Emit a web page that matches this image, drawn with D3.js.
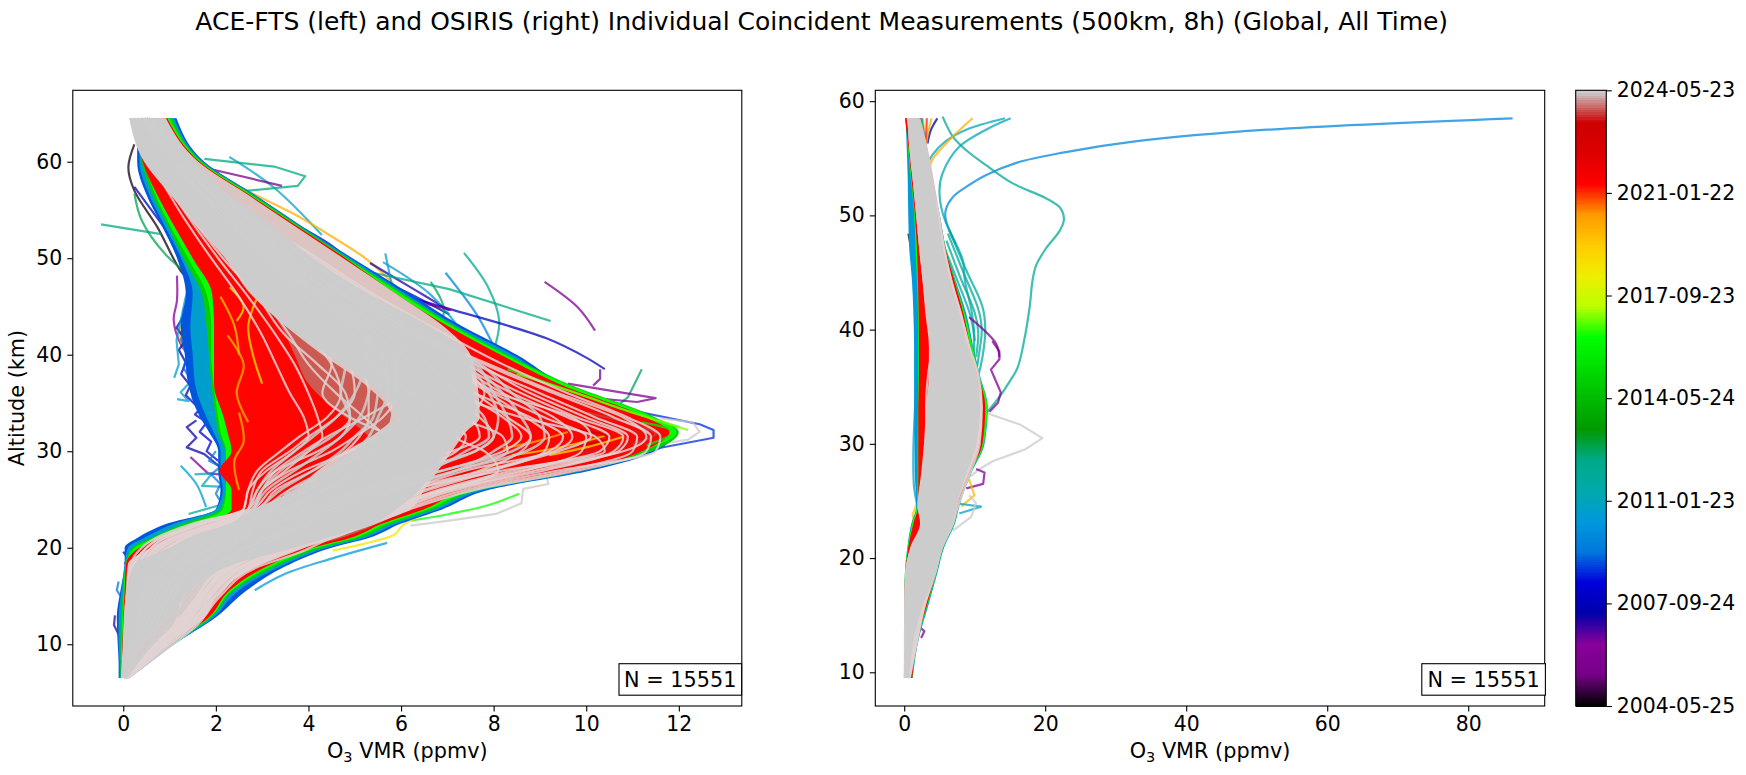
<!DOCTYPE html>
<html><head><meta charset="utf-8">
<style>html,body{margin:0;background:#fff}svg{display:block}text{font-family:"DejaVu Sans";fill:#000}</style>
<script src="https://cdn.jsdelivr.net/npm/d3@7"></script></head><body><svg id="c" width="1746" height="775"></svg>
<script>
const titleText="ACE-FTS (left) and OSIRIS (right) Individual Coincident Measurements (500km, 8h) (Global, All Time)";
const countLabel="N = 15551";
const colorDates=["2004-05-25","2007-09-24","2011-01-23","2014-05-24","2017-09-23","2021-01-22","2024-05-23"];
const cmapStops=[0,.05,.1,.15,.2,.25,.3,.35,.4,.45,.5,.55,.6,.65,.7,.75,.8,.85,.9,.95,1];
const cmapColors=["#000000","#770088","#880099","#0000aa","#0000dd","#0077dd","#0099dd","#00aaaa","#00aa88","#009900","#00bb00","#00dd00","#00ff00","#bbff00","#eeee00","#ffcc00","#ff9900","#ff0000","#dd0000","#cc0000","#cccccc"];
const xTicksLeft=[0,2,4,6,8,10,12], yTicks=[10,20,30,40,50,60], xTicksRight=[0,20,40,60,80];

// Envelopes of the dense bundle of profiles, left panel (ppmv at each altitude)
const leftAlt=[64.5,60,56.7,53.5,50,46.3,43,40,37,33.5,32,30,28,26,24,22.5,21,20,18.3,15.6,12.8,10,8,6.5];
const leftBlueLo=[.3,.3,.49,.82,1.16,1.35,1.24,1.33,1.4,1.66,1.85,2.05,2.05,2.1,2.0,.95,.3,.03,.03,-.06,-.14,-.12,-.1,-.1];
const leftBlueHi=[1.15,1.75,2.8,3.8,4.95,6.2,7.3,8.5,9.5,11.4,11.9,11.5,10.1,7.9,6.9,6.0,5.3,4.5,3.6,2.67,2.0,1.1,.55,.14];
const leftTealLo=[.35,.35,.55,.88,1.25,1.5,1.45,1.5,1.55,1.8,1.95,2.1,2.1,2.15,2.0,1.1,.45,.1,.03,-.04,-.1,-.1,-.08,-.08];
const leftTealHi=[1.1,1.72,2.78,3.78,4.9,6.1,7.2,8.4,9.45,11.4,11.85,11.4,10,7.8,6.8,5.9,5.2,4.4,3.5,2.5,1.95,1.1,.5,.12];
const leftGreenLo=[.3,.4,.62,.95,1.3,1.7,1.8,1.85,1.9,2.0,2.05,2.2,2.2,2.2,2.1,1.3,.6,.2,.05,0,-.05,-.06,-.06,-.06];
const leftGreenHi=[1.05,1.7,2.75,3.75,4.85,6.05,7.15,8.3,9.6,11.5,12.0,11.4,9.9,7.7,6.7,5.8,5.1,4.3,3.4,2.4,1.9,1.05,.48,.11];
const leftLimeLo=[.33,.45,.68,1.0,1.4,1.8,1.9,1.9,1.95,2.05,2.1,2.22,2.22,2.22,2.15,1.5,.7,.25,.06,.01,-.02,-.04,-.05,-.05];
const leftLimeHi=[1.0,1.68,2.72,3.72,4.82,6.0,7.1,8.25,9.55,11.45,11.95,11.2,9.8,7.6,6.6,5.7,5.0,4.2,3.3,2.35,1.88,1.02,.46,.1];
const leftRedLo=[.28,.42,.72,1.08,1.5,1.92,1.96,1.96,1.96,2.17,2.25,2.34,2.08,2.34,2.34,1.75,.8,.35,.06,.03,0,-.02,-.03,-.05];
const leftRedHi=[.95,1.65,2.68,3.7,4.8,5.9,7.0,8.15,9.4,11.3,11.8,11.2,9.9,7.5,6.5,5.6,4.9,4.1,3.2,2.3,1.85,1.0,.45,.1];
const leftRosyLo=[.35,.6,1.1,1.6,2.15,2.9,3.4,3.7,4.0,4.8,5.2,5.6,5.4,5,4,2,1.05,.6,.1,.05,.02,0,-.02,-.03];
const leftRosyHi=[.92,1.6,2.6,3.6,4.6,5.8,6.9,7.4,7.5,7.6,7.3,7.0,6.7,6.4,6.1,5.5,4.7,3.9,2.9,2.1,1.75,.95,.45,.11];
const leftPinkLo=[.13,.45,1.0,1.55,2.2,2.75,3.5,4.3,5.2,5.8,5.5,4.8,4.2,3.7,2.8,1.9,1.0,.6,.1,.06,.01,-.01,-.03,-.05];
const leftPinkHi=[.92,1.62,2.65,3.65,4.75,5.9,6.9,7.5,7.65,7.7,7.4,7.1,6.8,6.5,6.2,5.4,4.6,3.9,3.0,2.1,1.75,.95,.45,.11];
const leftGreyLo=[.13,.47,1.02,1.58,2.25,2.8,3.5,4.4,5.36,5.9,5.6,5.0,4.4,3.8,2.9,2.3,1.4,1.0,.25,.07,.02,0,-.03,-.05];
const leftGreyHi=[.89,1.55,2.25,3.2,4.1,5.3,6.6,7.4,7.55,7.6,7.3,7.0,6.7,6.4,5.9,5.4,4.4,3.7,2.4,1.4,1.0,.42,.2,.09];

// Envelopes, right panel
const rightAlt=[58.5,56,53.1,50.2,47.2,44.3,41.4,38.5,36.1,33.2,30,27.4,24.5,23,21,18.7,15.8,13,9.5];
const rightBlueLo=[.2,.35,.5,.57,.7,1.1,1.3,1.4,1.4,1.4,1.45,1.5,1.7,1.0,.45,.1,0,0,0];
const rightBlueHi=[2.6,3.2,3.9,5.0,5.9,7.3,8.8,9.8,10.7,11.85,11.4,9.5,7.8,7.2,5.7,4.7,3.4,2.1,1.2];
const rightGreenLo=[.25,.5,.95,1.4,1.6,1.8,1.95,2,2,1.95,1.9,1.9,1.8,1.1,.5,.1,0,0,0];
const rightGreenHi=[2.5,3.1,3.9,4.95,5.85,7.2,8.6,9.7,10.6,11.8,11.3,9.4,7.7,7.1,5.6,4.6,3.3,2,1.15];
const rightRedLo=[.1,.6,1.05,1.5,1.8,1.95,2.05,2.1,2.1,2,2,2,1.95,1.3,.6,.15,0,0,0];
const rightRedHi=[2.4,3.0,3.85,4.9,5.8,7.1,8.4,9.4,10.5,11.5,11.1,9.3,7.6,7,5.5,4.5,3.2,1.9,1.15];
const rightPinkLo=[.45,.7,1.2,1.66,2.1,2.6,3.0,3.5,3.5,3.1,2.8,2.4,1.9,2.3,.9,.14,0,0,0];
const rightPinkHi=[2.3,3.3,4.2,5.0,5.8,6.8,8.2,9.4,10.5,11.1,10.7,9.2,7.5,7.0,5.5,4.5,3.0,2.0,.9];
const rightGreyLo=[.47,.7,1.2,1.66,2.1,2.6,3.1,3.6,3.6,3.2,2.9,2.5,1.9,2.4,.95,.14,0,0,0];
const rightGreyHi=[2.1,3.1,4.0,4.74,5.45,6.4,7.8,9,10.2,10.7,10.2,8.8,7.3,6.9,5.45,4.5,2.6,1.4,.7];

// Individually readable profiles, left panel: date, then [ppmv, km]
const leftProfiles=[
["2010-10",[2.29,60.5],[3.26,57.3],[4.29,52.4]],
["2019-12",[1.79,59.3],[2.67,57],[3.68,54.6],[4.52,52.2],[5.28,49.8],[6.03,46.3],[6.45,43.6]],
["2007-09",[.24,57.4],[.99,52.5]],
["2004-07",[.24,61.8],[.11,59.4],[.24,57],[.74,53.2],[1.24,48.7],[1.58,47]],
["2012-10",[.24,56.7],[.4,53.9],[.91,50.4],[1.5,48]],
["2007-12",[2.59,56.7],[3.68,53.6],[4.44,51.5],[5.19,48.7],[6.2,46.3],[7.04,44.2]],
["2007-03",[5.33,49.5],[6.2,47],[7.04,44.6]],
["2010-08",[5.66,50.5],[5.78,47.7],[5.87,45.6]],
["2010-08",[5.61,49.6],[6.62,46.3],[7.29,42.5],[7.46,41.1]],
["2009-10",[6.96,48.5],[7.63,44.2],[8.05,40.4]],
["2012-02",[7.36,50.55],[7.88,47],[8.12,43.5],[8.0,40.4]],
["2012-08",[6.64,47.55],[6.92,44.9],[6.83,42.5]],
["2005-08",[9.1,47.55],[9.82,44.9],[10.19,42.5]],
["2007-10",[5.36,47],[7.04,44.75],[9.14,41.7],[10.0,39.7],[10.4,38.5]],
["2005-10",[7.13,42.2],[8.05,40.4],[8.55,39.4]],
["2005-10",[5.53,46.3],[6.87,44.9],[7.08,44.6]],
["2016-06",[8.55,25.6],[7.88,24.4],[7.04,23.5],[6.2,22.8]],
["2018-08",[7.3,25.2],[6.62,23.8],[6.03,22.3],[5.87,21.4],[5.19,20.4],[4.52,19.7]],
["2010-06",[5.7,20.5],[4.52,18.9],[3.5,17.3],[2.84,15.6]],
["2010-08",[1.24,28.5],[1.58,26.6],[1.79,24.2]],
["2006-04",[1.16,48.2],[1.16,45.6],[1.09,43.6],[1.24,41.1],[1.5,39.5]],
["2019-10",[1.83,48],[1.75,46.3],[1.33,43.9],[1.24,41.5],[1.5,39.4],[1.7,37],[1.9,35],[2.05,33]],
["2018-12",[2.0,46],[1.65,43],[1.7,41],[1.6,39],[1.85,37],[2.1,35]],
["2010-10",[1.5,47],[1.4,44],[1.55,41],[1.7,38],[1.95,35]]
];
// Jagged profiles, drawn with straight segments
const leftZigzag=[
["2012-06",[1.75,60.3],[3.26,59.5],[3.93,58.5],[3.77,57.5],[2.5,56.9]],
["2005-07",[1.83,59.3],[3.43,57.5]],
["2012-06",[-.48,53.5],[.82,52.5]],
["2012-06",[5.19,48.7],[7.04,46.8],[9.23,43.5]],
["2012-09",[11.2,38.5],[10.9,35.6],[10.65,34.6]],
["2008-10",[11.0,34.2],[12.45,32.8],[12.75,32.2],[12.75,31.4],[12.1,30.8],[11.2,30]],
["2024-05",[11.6,33.4],[12.3,33],[12.45,32],[12.2,31.2],[11.4,30.6]],
["2024-05",[9.14,27.5],[9.18,26.6],[8.64,26.1],[8.6,24.6],[8.05,23.5],[7.04,22.8],[6.2,22.3]],
["2005-10",[10.3,38.5],[10.3,37.5],[10.15,36.8]],
["2005-10",[9.6,37],[11.5,35.5],[11.1,35.1],[10.4,35.4]],
["2007-04",[1.58,33.2],[1.37,32.5],[1.58,31.4],[1.37,30.4],[1.75,29.7],[2.08,28.4]],
["2006-02",[1.45,29.4],[1.83,27.7],[2.08,27.6]],
["2010-10",[1.16,35.4],[1.41,35.2],[1.24,36.1],[1.41,37]],
["2011-03",[1.54,27.6],[1.92,27.7],[1.7,26.4],[2.17,26.3]],
["2011-10",[1.41,23.5],[2.08,24.4]],
["2007-06",[0,19.6],[.1,18.9],[.03,18.3]],
["2009-06",[-.1,16.5],[-.14,15.6],[-.06,15]],
["2007-02",[-.18,13],[-.2,12],[-.1,11]],
["2007-08",[1.3,44],[1.15,42.8],[1.35,41.5],[1.2,40.5],[1.35,39.2],[1.25,38],[1.45,36.8],[1.35,35.8],[1.6,34.6]],
["2009-03",[1.45,46],[1.3,44.6],[1.4,43],[1.25,41.6],[1.38,40],[1.3,38.6],[1.5,37.2],[1.5,35.5],[1.75,33.6]],
["2010-09",[1.5,48],[1.35,46],[1.15,41.5],[1.2,39],[1.1,37.6]],
["2008-05",[1.7,34.6],[1.55,33.8],[1.8,33],[1.65,32],[1.9,31],[1.8,30],[2.05,29]],
["2009-08",[2.0,30],[1.85,29],[2.1,28.4],[1.9,27.6],[2.1,26.6],[2,25.6],[2.1,24.8]]
];
// Dated strands inside the red bundle
const leftStrands=[
["2019-06",[2.1,46],[2.4,43],[2.5,40]],
["2018-09",[2.9,46],[2.7,43],[2.8,40],[3.0,37]],
["2019-10",[2.25,42],[2.6,39],[2.45,36],[2.7,33]],
["2019-10",[2.5,34],[2.6,31],[2.4,29],[2.5,26]],
["2018-03",[2.3,47],[2.6,45],[2.45,43.5]],
["2019-03",[10.4,31.6],[9.8,30.8],[9.1,30.1],[8.4,29.6]],
["2018-10",[10.8,31.5],[10,30.4],[9.2,29.6]],
["2020-02",[9.6,32],[8.9,31],[8.2,30.3]],
["2016-06",[8.3,38.5],[9.5,36.5],[10.7,34.5],[12,32.5]],
["2017-01",[8.5,38],[9.8,36],[11,34],[12.2,32.2]],
["2016-01",[11.2,33],[11.9,32],[11.3,30.6]],
["2023-07",[9.6,33.6],[10.6,32.6],[11.3,31.6],[10.7,30.5],[9.8,29.8]],
["2023-09",[10,34],[11,32.8],[11.5,31.8],[11,30.7]],
["2023-05",[8.8,33],[9.8,32.3],[10.5,31.4],[9.6,30.4]]
];
// Latest profiles, on a shared altitude list
const paleAlt=[64.5,60,55,50,46,42,39,36,33.5,31.5,30,28,26,24,22.5,21,19.5,18,15,12,9,6.5];
const leftPale=[
[.2,.8,1.5,2.4,3.2,4,4.5,4.7,4.4,3.8,3.4,2.9,2.7,2.6,1.5,.7,.3,.15,.08,.05,.02,0],
[.3,.9,1.6,2.6,3.5,4.4,4.9,5.0,4.6,4.0,3.6,3.0,2.8,2.7,1.7,.9,.5,.3,.15,.08,.03,0],
[.25,.95,1.7,2.8,3.8,4.9,5.5,5.9,5.6,5,4.5,3.6,3.0,2.8,2,1.1,.6,.35,.2,.1,.04,.01],
[.3,1.0,1.9,3.0,3.9,4.7,5.1,5.3,5.3,5.1,4.8,4.1,3.3,2.9,2.2,1.2,.7,.4,.2,.15,.05,.01],
[.2,.85,1.45,2.3,3.0,3.6,4.0,4.6,5.2,5.6,5.5,4.6,3.6,3.0,2.4,1.4,.8,.5,.25,.15,.06,.02],
[.35,1.1,2.1,3.3,4.2,5.2,6,6.5,6.2,5.5,4.9,3.9,3.2,2.8,2.1,1.3,.9,.6,.3,.2,.08,.02],
[.28,.95,1.8,2.9,4,5.3,6.3,7,7.2,6.9,6.3,5.2,4.1,3.3,2.6,1.7,1.1,.8,.5,.3,.1,.03],
[.3,1.05,2,3.2,4.5,5.7,6.2,6,5.2,4.4,3.9,3.3,3,2.8,1.9,1,.6,.4,.25,.2,.1,.04],
[.5,1.3,2.4,3.7,5,6.4,7.6,9,10.2,11.1,11,9.6,7.4,6.1,5.3,4.4,3.6,2.8,2,1.4,.7,.1],
[.45,1.25,2.3,3.6,4.8,6.2,7.4,8.6,9.8,10.8,10.6,9.1,7,5.8,5,4,3.2,2.5,1.8,1.3,.6,.08],
[.55,1.4,2.5,3.9,5.2,6.6,7.8,9.3,10.6,11.4,11.3,9.8,7.6,6.2,5.4,4.5,3.8,2.9,2.1,1.6,.8,.1],
[.5,1.35,2.55,4.2,5.5,7,8.2,9.6,10.9,11.6,11.5,9.4,7.2,6,5.2,4.3,3.4,2.7,2,1.5,.75,.1],
[.4,1.2,2.2,3.4,4.6,5.9,7.0,8,9.1,10,9.9,8.7,6.9,5.6,4.8,3.9,3,2.4,1.7,1.2,.5,.07],
[.4,1.2,2.15,3.3,4.4,5.7,6.9,7.9,8.7,9.2,9.1,8,6.6,5.5,4.6,3.7,2.9,2.2,1.6,1.1,.5,.06],
[.35,1.15,2.1,3.2,4.3,5.6,6.7,7.6,8.3,8.8,8.6,7.7,6.3,5.3,4.5,3.5,2.7,2.1,1.5,1,.45,.05],
[.45,1.3,2.45,3.8,5.1,6.3,7.3,8.4,9.6,10.5,10.3,8.4,6.8,5.7,4.9,4.1,3.3,2.6,1.9,1.45,.65,.09],
[.5,1.35,2.6,4.1,5.4,6.7,7.7,8.8,10,10.9,10.7,8.9,7.1,5.9,5.1,4.2,3.5,2.75,2.05,1.55,.7,.11],
[.4,1.25,2.3,3.5,4.7,6.1,7.2,8.2,9.3,9.7,9.3,7.4,6.2,5.4,4.7,3.8,3,2.3,1.75,1.25,.55,.07],
[.45,1.28,2.35,3.65,4.9,6.5,7.9,9.4,10.8,11.3,10.8,8.6,6.9,5.8,5,4.1,3.2,2.55,1.85,1.35,.6,.08],
[.3,1.1,2,3.1,4.3,5.5,6.5,7.6,8.8,9.5,9.2,7.8,6,4.8,3.6,2.5,1.7,1.1,.7,.4,.15,.03],
[.3,1.0,1.95,3,4.1,5.1,6.2,7.3,8.2,8.6,8.2,6.9,5.3,4,3.0,2,1.3,.9,.6,.35,.12,.02],
[.32,1.05,2.05,3.1,4.2,5.3,6,6.9,7.7,8,7.6,6.2,4.7,3.6,2.7,1.8,1.2,.8,.5,.3,.1,.02],
[.28,.95,1.75,2.7,3.7,4.8,5.7,6.6,7.5,7.7,7.1,5.4,4,3.1,2.3,1.5,.95,.65,.4,.25,.1,.02],
[.2,.8,1.5,2.5,3.3,4.2,4.8,5.8,6.8,7.4,7.2,6.3,5.4,4.6,3.9,3,2.3,1.8,1.3,1.1,.5,.05],
[.22,.82,1.55,2.45,3.4,4.1,4.9,6,7.2,8.2,8.3,7.2,5.8,4.8,4.2,3.3,2.6,2.1,1.6,1.3,.6,.06],
[.15,.6,1.2,1.9,2.5,3,3.3,3.6,3.9,4,3.7,3.1,2.7,2.6,1.6,.8,.4,.2,.1,.05,.02,0],
[.18,.65,1.3,2.05,2.7,3.3,3.7,4,4.2,4.3,4,3.5,3,2.7,1.8,.9,.5,.3,.12,.06,.02,0],
[.2,.7,1.35,2.15,2.9,3.5,4.2,4.8,4.9,4.7,4.2,3.3,2.9,2.7,1.7,.8,.4,.2,.1,.05,.02,0],
[.4,1.1,2.2,3.5,4.9,6.2,7.2,7.8,7.5,7.2,7.8,8.1,7.0,5.6,4.5,3.4,2.6,2,1.4,1,.45,.05],
[.35,1.15,2.15,3.4,4.6,5.8,6.5,7.1,8.6,10.2,10.4,8.2,6.2,5.2,4.3,3.4,2.7,2.2,1.7,1.2,.55,.06],
[.42,1.2,2.3,3.7,5,6,7.1,8.1,9.7,10.1,9.4,7.9,6.5,5.5,4.5,3.6,3,2.35,1.65,1.15,.5,.06],
[.3,1,1.85,2.85,3.6,4.2,4.5,4.3,4.9,5.8,6.2,5.9,4.6,3.4,2.6,1.6,1,.7,.4,.25,.1,.02]
];
// Latest grey profiles laid over the pale ones
const leftLatest=[
[.5,1.2,2.2,3.3,4.4,5.2,5.2,5.0,4.6,4.1,3.7,3.2,2.9,2.7,2.4,1.8,1.4,1.1,.7,.4,.2,.02],
[.5,1.2,2.2,3.3,4.4,5.2,5.4,5.3,5.1,4.7,4.3,3.7,3.1,2.8,2.5,1.9,1.5,1.1,.8,.5,.2,.02],
[.5,1.15,2.1,3.2,4.3,5.3,5.6,5.5,5.4,5,4.7,4.1,3.4,2.9,2.4,1.7,1.2,.8,.5,.3,.1,.01],
[.45,1.1,2.1,3.1,4.2,5.2,5.7,5.7,5.5,5.3,5,4.4,3.7,3.1,2.6,2,1.5,1,.6,.4,.2,.02],
[.4,1.05,2,3,3.9,4.6,4.8,4.7,4.9,4.5,4,3.4,3,2.8,2.4,1.6,1.1,.7,.4,.3,.1,.02],
[.5,1.2,2.2,3.3,4.4,5.5,6,6.3,6,5.4,5.1,4.7,4,3.2,2.7,2,1.4,1.1,.7,.5,.2,.02],
[.5,1.25,2.3,3.4,4.6,5.7,6.2,6.5,6.5,6.2,5.4,4.4,3.6,3.3,2.8,2.2,1.7,1.2,.9,.6,.25,.03],
[.5,1.2,2.2,3.3,4.4,5.5,5.9,5.9,5.8,5.7,5.5,5,4.3,3.5,3,2.4,1.8,1.3,.9,.7,.3,.03],
[.55,1.35,2.5,3.7,4.8,6.2,7.4,7.9,8.1,8,7.6,6.4,5,3.9,3.2,2.6,2.1,1.6,1.1,.8,.3,.04],
[.6,1.4,2.55,3.9,5.1,6.3,7.5,8.2,8.6,8.8,8.4,6.9,5.4,4.3,3.7,3,2.4,1.9,1.3,.9,.4,.05],
[.55,1.35,2.45,3.6,4.9,6.4,7.6,8,8.3,8.4,8,7.2,5.9,4.7,4,3.3,2.7,2.1,1.5,1,.45,.05],
[.6,1.45,2.6,3.95,5.2,6.5,7.7,8.4,9,9.1,8.7,7.2,5.7,4.5,3.9,3.1,2.5,2,1.4,1,.4,.05],
[.45,1.2,2.25,3.5,4.6,5.7,6.6,7.2,7.8,7.9,7.4,6.6,5.2,4.1,3.3,2.5,2,1.5,1,.7,.3,.04],
[.4,1.1,2,3.1,4.2,5,5.4,6.2,6.9,6.6,6,5.3,4.4,3.6,2.9,2,1.5,1.1,.8,.6,.3,.03]
];

// Individually readable profiles, right panel
const rightProfiles=[
["2009-11",[86.3,58.5],[51.5,57.5],[33,56.5],[22.5,55.5],[15.9,54.6],[11.5,53.5],[8.8,52.5],[6.9,51.6],[5.9,50.5],[5.9,49.6],[7.3,47.5]],
["2012-01",[5.45,58.65],[6.9,56.9],[8.8,55.7],[11.6,54.4],[15.4,52.8],[20.1,51.5],[22.2,50.6],[22.65,49.6],[22,48.6],[20.1,47.1],[18.7,45.6],[18.2,44.3],[17.8,42],[17,39],[16.1,36.7],[14.9,35.4],[13.5,34.1],[11.8,32.8]],
["2011-01",[14.3,58.5],[8.8,57.5],[5.9,56.5],[4,55.3],[3.3,54.5]],
["2011-03",[15.1,58.5],[11.6,57.5],[7.8,56],[5.45,53.7],[5,52.2],[5.45,50.2],[6.4,48.7],[8.3,46.1],[8.6,44.3],[9.6,41.5],[10,39]],
["2019-12",[9.7,58.5],[6.9,56.9],[4,54.9],[3.55,54]],
["2011-10",[6.4,48.7],[8.8,45.2],[11.1,42],[11.5,40],[11.1,37.6],[10.5,36]],
["2011-11",[6.2,48.4],[8.4,45],[10.5,41.8],[11,40],[10.6,37.8],[10.2,36.3]],
["2012-01",[6,47.8],[8,44.5],[10,41.5],[10.5,39.8],[10.2,37.6]],
["2011-08",[5.8,47],[7.6,44.2],[9.4,41.2],[9.9,39.5],[9.8,37.4]],
["2005-10",[9.2,41.1],[13,38.8],[13.5,37.6]],
["2010-10",[1.66,34.6],[1.3,29.4],[1.4,26.2],[1.9,24.5]],
["2007-06",[4.7,58.5],[3.8,57.5],[3.3,56.3]],
["2020-06",[2.6,58.5],[2.9,57],[3.1,55.8]],
["2019-12",[3.9,58.5],[3.3,57],[3,55.5]],
["2021-03",[3.2,58.5],[3.1,57],[2.9,56]],
["2004-06",[.6,48.4],[1,47],[1.4,45.4]]
];
const rightZigzag=[
["2024-05",[9.7,33.2],[12.6,32.5],[16.4,31.7],[19.6,30.5],[17.1,29.5],[12.6,28.5],[10.7,27.8],[9.3,27.1]],
["2005-10",[12.5,39],[13.5,38.1],[13.5,37.4],[12.3,36.5],[13,35.5],[13.7,34.5],[13.3,33.6],[12.1,32.8]],
["2006-06",[10.2,27.8],[11.4,27.5],[11.2,26.5],[8.8,26.1]],
["2019-10",[8.1,24.5],[9.95,25.5],[9.2,26.9],[8.1,25.9]],
["2010-12",[7.3,24.8],[10.9,24.5],[7.8,23.9]],
["2024-05",[9.2,25.5],[10.2,24.8],[9.5,23.6],[6.9,22.4]],
["2019-08",[1.9,25],[1.2,23.8],[1.6,22.6]],
["2005-10",[2.1,14],[2.85,13.6],[2.4,13]]
];
const rightPale=[
[.6,1.2,1.7,2.3,2.8,3.3,4.0,4.8,5.2,4.8,4.2,3.3,2.4,2.6,1.2,.3,.2,.1,.1],
[.7,1.3,1.9,2.5,3.1,3.6,4.4,5.3,5.4,4.9,4.0,3.0,2.2,2.5,1.4,.5,.3,.2,.1],
[.5,1.1,1.5,2.0,2.5,3.1,3.7,4.3,4.7,4.4,3.7,2.9,2.5,2.8,1.6,.7,.5,.3,.1],
[1.6,2.5,3.6,4.8,5.6,6.7,8.0,9.2,10.5,11.0,10.7,9.3,7.6,6.9,5.4,4.4,2.9,1.9,.8],
[1.4,2.3,3.3,4.4,5.2,6.2,7.4,8.6,9.6,10.9,10.4,8.9,7.1,6.5,5,4,2.7,1.8,.7],
[1.2,2,3,4,4.9,5.9,6.8,8,9,10.2,9.6,8.2,6.7,6,4.6,3.6,2.4,1.5,.6],
[1,1.8,2.6,3.5,4.4,5.3,6.2,7.4,8.4,9.6,9.2,7.8,6.2,5.6,4.2,3.2,2.1,1.3,.5],
[.9,1.5,2.3,3.1,3.9,4.8,5.6,6.8,7.6,8.4,8.2,6.8,5.4,4.9,3.5,2.6,1.8,1.1,.4],
[.8,1.4,2,2.7,3.3,3.9,4.7,4,3.4,3.1,3.3,2.8,2.2,2.4,1.1,.4,.4,.2,.1],
[1,1.6,2.4,3.1,3.6,4.4,5.1,5.7,4.4,3.6,3.1,3.1,2.6,2.6,1.3,.6,.3,.15,.1]
];

const W=1746,H=775;
const svg=d3.select("#c");
const parse=d3.timeParse("%Y-%m-%d");
const dateOf=s=>parse(s.length===7?s+"-15":s);
const tScale=d3.scaleTime().domain([parse(colorDates[0]),parse(colorDates[6])]).range([0,1]).clamp(true);
const cmap=d3.scaleLinear().domain(cmapStops).range(cmapColors).interpolate(d3.interpolateRgb);
const colorOf=s=>cmap(tScale(dateOf(s)));

function axisStyle(g){g.selectAll("text").attr("font-size",20.4).style("font-family","DejaVu Sans");g.selectAll("line").attr("stroke","#000").attr("stroke-width",1.1);g.select(".domain").remove();}

function panel(o){
  const x=d3.scaleLinear().domain(o.xDomain).range(o.xRange);
  const y=d3.scaleLinear().domain(o.yDomain).range([706,90.3]);
  const id="clip"+o.xRange[0];
  svg.append("clipPath").attr("id",id).append("rect").attr("x",o.xRange[0]).attr("y",90.3).attr("width",o.xRange[1]-o.xRange[0]).attr("height",615.7);
  const g=svg.append("g").attr("clip-path",`url(#${id})`);
  const band=(alts,lo,hi,fill,op)=>g.append("path").datum(alts.map((a,i)=>[a,lo[i],hi[i]]))
    .attr("d",d3.area().curve(d3.curveMonotoneY).y(d=>y(d[0])).x0(d=>x(d[1])).x1(d=>x(d[2])))
    .attr("fill",fill).attr("fill-opacity",op==null?1:op);
  const smooth=d3.line().curve(d3.curveCatmullRom.alpha(.5)).x(d=>x(d[0])).y(d=>y(d[1]));
  const straight=d3.line().x(d=>x(d[0])).y(d=>y(d[1]));
  const draw=(list,gen)=>list.forEach(p=>g.append("path").attr("d",gen(p.slice(1))).attr("fill","none")
    .attr("stroke",colorOf(p[0])).attr("stroke-opacity",.75).attr("stroke-width",2.2).attr("stroke-linejoin","round"));
  draw(o.profiles,smooth);draw(o.zigzag,straight);
  o.bands(band);
  if(o.strands)draw(o.strands,smooth);
  if(o.rosy)o.rosy(band);
  const paleLine=d3.line().curve(d3.curveMonotoneY).x(d=>x(d[0])).y(d=>y(d[1]));
  const family=(rows,col,w)=>rows.forEach(v=>g.append("path").attr("d",paleLine(v.map((q,i)=>[q,o.paleAlt[i]]))).attr("fill","none")
    .attr("stroke",col).attr("stroke-opacity",.85).attr("stroke-width",w));
  family(o.pale,"#e2d3d3",2.2);
  o.top(band);
  if(o.latest)family(o.latest,colorOf("2024-05-23"),2.6);
  // frame and axes
  svg.append("rect").attr("x",o.xRange[0]).attr("y",90.3).attr("width",o.xRange[1]-o.xRange[0]).attr("height",615.7).attr("fill","none").attr("stroke","#000").attr("stroke-width",1.1);
  svg.append("g").attr("transform","translate(0,706)").call(d3.axisBottom(x).tickValues(o.xTicks).tickFormat(d3.format("d")).tickSize(5.5).tickSizeOuter(0).tickPadding(5)).call(axisStyle);
  svg.append("g").attr("transform",`translate(${o.xRange[0]},0)`).call(d3.axisLeft(y).tickValues(yTicks).tickFormat(d3.format("d")).tickSize(5.5).tickSizeOuter(0).tickPadding(5)).call(axisStyle);
  const lab=svg.append("text").attr("x",(o.xRange[0]+o.xRange[1])/2).attr("y",758).attr("text-anchor","middle").attr("font-size",20.8);
  lab.append("tspan").text("O");lab.append("tspan").attr("font-size",14.5).attr("dy",4).text("3");lab.append("tspan").attr("dy",-4).text(" VMR (ppmv)");
  svg.append("rect").attr("x",o.box[0]).attr("y",663.7).attr("width",o.box[1]-o.box[0]).attr("height",31.5).attr("fill","#fff").attr("stroke","#000").attr("stroke-width",1.1);
  svg.append("text").attr("x",(o.box[0]+o.box[1])/2).attr("y",686.5).attr("text-anchor","middle").attr("font-size",20.8).text(countLabel);
}

panel({xDomain:[-1.09,13.36],xRange:[72.8,741.8],yDomain:[3.6,67.4],xTicks:xTicksLeft,box:[619,741.6],
  profiles:leftProfiles,zigzag:leftZigzag,strands:leftStrands,pale:leftPale,latest:leftLatest,paleAlt,
  bands(b){
    b(leftAlt,leftBlueLo,leftBlueHi,colorOf("2009-02"));
    b(leftAlt,leftTealLo,leftTealHi,colorOf("2010-09"));
    b(leftAlt,leftGreenLo,leftGreenHi,colorOf("2015-01"));
    b(leftAlt,leftLimeLo,leftLimeHi,colorOf("2016-06"));
    b(leftAlt,leftRedLo,leftRedHi,colorOf("2021-05"));
  },
  rosy(b){b(leftAlt,leftRosyLo,leftRosyHi,"#cc5a52");b(leftAlt,leftPinkLo,leftPinkHi,"#dcc4c2");},
  top(b){b(leftAlt,leftGreyLo,leftGreyHi,colorOf("2024-05-23"));}
});
panel({xDomain:[-4.1,90.85],xRange:[875.3,1544.7],yDomain:[7.05,60.95],xTicks:xTicksRight,box:[1421.8,1545.4],
  profiles:rightProfiles,zigzag:rightZigzag,pale:rightPale,paleAlt:rightAlt,
  bands(b){
    b(rightAlt,rightBlueLo,rightBlueHi,colorOf("2010-06"));
    b(rightAlt,rightGreenLo,rightGreenHi,colorOf("2016-06"));
    b(rightAlt,rightRedLo,rightRedHi,colorOf("2021-05"));
  },
  rosy(b){b(rightAlt,rightPinkLo,rightPinkHi,"#dcc4c2");},
  top(b){b(rightAlt,rightGreyLo,rightGreyHi,colorOf("2024-05-23"));}
});

svg.append("text").attr("transform","translate(24,398) rotate(-90)").attr("text-anchor","middle").attr("font-size",20.8).text("Altitude (km)");
svg.append("text").attr("x",821.7).attr("y",30).attr("text-anchor","middle").attr("font-size",25).text(titleText);

// colour bar
const cbY=d3.scaleTime().domain([parse(colorDates[0]),parse(colorDates[6])]).range([706,90.3]);
const levels=d3.range(256);
const lvl=d3.scaleLinear().domain([0,256]).range(cbY.domain().map(Number));
svg.append("g").attr("shape-rendering","crispEdges").selectAll("rect").data(levels).join("rect").attr("x",1575.7).attr("width",30.6)
  .attr("y",i=>cbY(lvl(i+1))).attr("height",i=>cbY(lvl(i))-cbY(lvl(i+1))+.5).attr("fill",i=>cmap(i/255));
svg.append("rect").attr("x",1575.7).attr("y",90.3).attr("width",30.6).attr("height",615.7).attr("fill","none").attr("stroke","#000").attr("stroke-width",1.1);
svg.append("g").attr("transform","translate(1606.3,0)").call(d3.axisRight(cbY).tickValues(colorDates.map(parse)).tickFormat(d3.timeFormat("%Y-%m-%d")).tickSize(5.5).tickSizeOuter(0).tickPadding(5)).call(axisStyle);
</script></body></html>
